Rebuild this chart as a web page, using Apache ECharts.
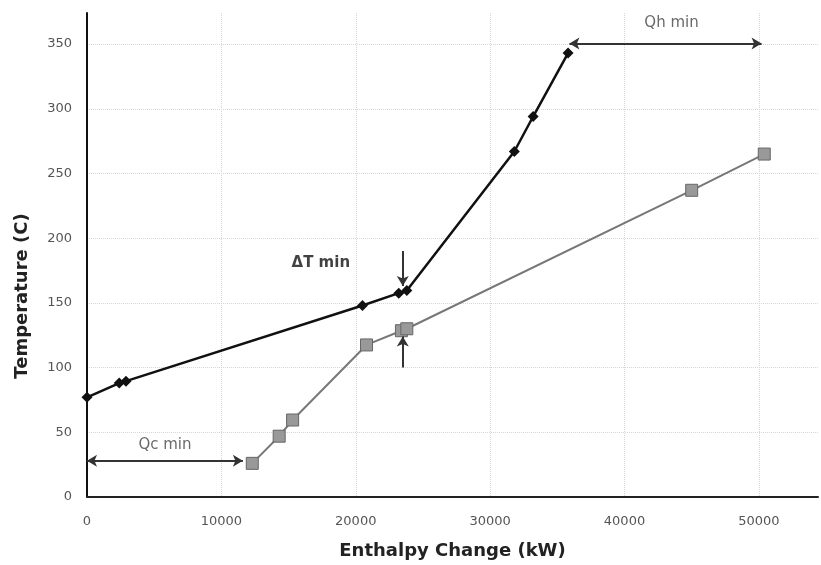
<!DOCTYPE html>
<html><head><meta charset="utf-8">
<script src="https://cdn.jsdelivr.net/npm/echarts@6/dist/echarts.min.js"></script>
<style>html,body{margin:0;padding:0;background:#fff}#c{width:821px;height:565px}</style>
</head><body><div id="c"></div>
<script>
// Hot composite curve (enthalpy kW, temperature C)
const hotH = [0, 2400, 2900, 20500, 23200, 23800, 31800, 33200, 35800];
const hotT = [77, 88, 89.5, 148, 157.5, 159.5, 267, 294, 343];
// Cold composite curve
const coldH = [12300, 14300, 15300, 20800, 23400, 23800, 45000, 50400];
const coldT = [26, 47, 59.5, 117.5, 128.5, 130, 237, 265];
// Annotations
const qhArrow = [[35900, 350.5], [50200, 350.5]];
const qcArrow = [[0, 28], [11600, 28]];
const dtDown = [[23500, 190], [23500, 163]];
const dtUp = [[23500, 100], [23500, 124]];
const labelTexts = ['Qh min', 'Qc min', 'ΔT min'];
const labelPos = [[43500, 366], [5800, 40], [17400, 181]];

const font = 'DejaVu Sans';
const chart = echarts.init(document.getElementById('c'));
const arrowLine = (pts, sym) => ({
  symbol: sym, symbolSize: [9, 10], silent: true,
  lineStyle: {color: '#333', width: 2, type: 'solid'},
  label: {show: false},
  data: [[{coord: pts[0]}, {coord: pts[1]}]]
});
chart.setOption({
  animation: false,
  grid: {left: 87, right: 0, top: 13, bottom: 68},
  xAxis: {
    type: 'value', min: 0, max: 54400, interval: 10000,
    axisLine: {lineStyle: {color: '#222', width: 2}},
    axisTick: {show: false},
    axisLabel: {color: '#555', fontFamily: font, fontSize: 13, margin: 18,
      formatter: v => v % 10000 === 0 ? String(v) : ''},
    splitLine: {show: true, showMaxLine: false, lineStyle: {color: '#d6d6d6', type: 'dotted', width: 1}},
    name: 'Enthalpy Change (kW)', nameLocation: 'middle', nameGap: 45,
    nameTextStyle: {color: '#222', fontFamily: font, fontSize: 18, fontWeight: 'bold'}
  },
  yAxis: {
    type: 'value', min: 0, max: 374, interval: 50,
    axisLine: {show: true, lineStyle: {color: '#111', width: 2}},
    axisTick: {show: false},
    axisLabel: {color: '#555', fontFamily: font, fontSize: 13, margin: 15,
      formatter: v => v % 50 === 0 ? String(v) : ''},
    splitLine: {show: true, showMaxLine: false, lineStyle: {color: '#d6d6d6', type: 'dotted', width: 1}},
    name: 'Temperature (C)', nameLocation: 'middle', nameGap: 56,
    nameTextStyle: {color: '#222', fontFamily: font, fontSize: 18, fontWeight: 'bold', padding: [0, 82, 0, 0]}
  },
  series: [
    {
      type: 'line', data: hotH.map((h, i) => [h, hotT[i]]),
      symbol: 'diamond', symbolSize: 11, showSymbol: true,
      lineStyle: {color: '#111', width: 2.5},
      itemStyle: {color: '#111'},
      markLine: arrowLine(qhArrow, ['arrow', 'arrow'])
    },
    {
      type: 'line', data: coldH.map((h, i) => [h, coldT[i]]),
      symbol: 'rect', symbolSize: 12, showSymbol: true,
      lineStyle: {color: '#777', width: 2},
      itemStyle: {color: '#999', borderColor: '#666', borderWidth: 1},
      markLine: arrowLine(qcArrow, ['arrow', 'arrow'])
    },
    {type: 'line', data: [], markLine: arrowLine(dtDown, ['none', 'arrow'])},
    {type: 'line', data: [], markLine: arrowLine(dtUp, ['none', 'arrow'])},
    {
      type: 'scatter', symbolSize: 0, silent: true,
      data: labelPos.map((p, i) => ({value: p, name: labelTexts[i],
        label: i === 2 ? {color: '#111', fontWeight: 'bold'} : {}})),
      label: {show: true, position: 'inside', formatter: p => p.name,
        color: '#444', fontFamily: font, fontSize: 15}
    }
  ]
});
</script></body></html>
